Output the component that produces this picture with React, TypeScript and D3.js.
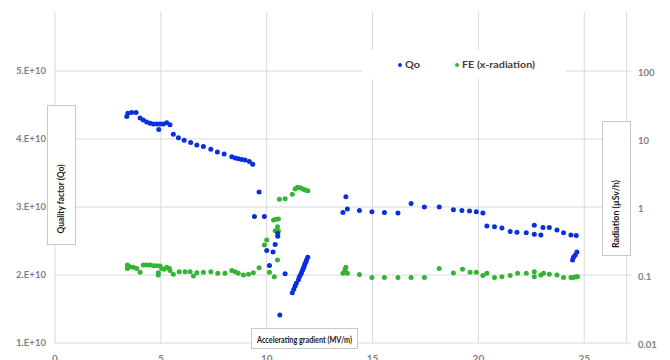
import * as d3 from "d3";

// Qo vs accelerating gradient
const qoGradient = [
  3.39, 3.44, 3.62, 3.83, 4.02, 4.17, 4.33, 4.49, 4.65, 4.81, 4.9, 4.96, 5.12, 5.28, 5.43,
  5.59, 5.83, 6.1, 6.41, 6.7, 7.01, 7.36, 7.67, 7.99, 8.35, 8.51, 8.66, 8.82, 8.98, 9.18, 9.34,
  9.64, 9.42, 9.89, 10.52, 10.52, 10.4, 10.0, 10.3, 10.13, 10.87,
  11.94, 11.88, 11.85, 11.8, 11.77, 11.73, 11.69, 11.64, 11.59, 11.54, 11.5, 11.4, 11.34, 11.28, 11.21,
  10.62,
  13.74, 13.6, 13.81, 14.38, 14.97, 15.56, 16.2, 16.82, 17.45, 18.15, 18.82, 19.22, 19.58, 19.9, 20.21,
  20.4, 20.76, 21.11, 21.5, 21.82, 22.26, 22.64, 22.64, 22.95, 23.05, 23.35, 23.71, 24.02, 24.37, 24.62,
  24.65, 24.57, 24.49, 24.45,
];
const qoValues = [
  4.33, 4.38, 4.39, 4.39, 4.31, 4.28, 4.25, 4.23, 4.22, 4.22, 4.14, 4.22, 4.22, 4.24, 4.21,
  4.07, 4.02, 3.98, 3.95, 3.91, 3.89, 3.85, 3.81, 3.78, 3.74, 3.72, 3.71, 3.7, 3.69, 3.67, 3.63,
  3.22, 2.86, 2.86, 2.61, 2.57, 2.45, 2.36, 2.34, 2.14, 2.02,
  2.26, 2.22, 2.19, 2.16, 2.13, 2.1, 2.07, 2.03, 2.0, 1.97, 1.93, 1.88, 1.84, 1.79, 1.74,
  1.41,
  3.15, 2.92, 2.97, 2.95, 2.93, 2.92, 2.91, 3.05, 3.0, 3.0, 2.96, 2.95, 2.94, 2.93, 2.91,
  2.72, 2.71, 2.69, 2.64, 2.63, 2.62, 2.73, 2.6, 2.59, 2.7, 2.7, 2.66, 2.62, 2.59, 2.58,
  2.34, 2.29, 2.26, 2.22,
].map((v) => v * 1e10);

// field emission (x-radiation, µSv/h) vs accelerating gradient
const feGradient = [
  3.42, 3.42, 3.54, 3.7, 3.86, 4.02, 4.17, 4.33, 4.49, 4.65, 4.81, 4.88, 4.88, 4.96, 5.04, 5.15,
  5.28, 5.4, 5.43, 5.59, 5.87, 6.14, 6.38, 6.54, 6.7, 7.01, 7.36, 7.69, 8.03, 8.35, 8.51, 8.66,
  8.9, 9.14, 9.37, 9.64, 9.89, 10.0, 10.13, 10.36, 10.32, 10.43, 10.55, 10.51, 10.4, 10.55, 10.51,
  10.6, 10.87, 11.21, 11.34, 11.45, 11.58, 11.71, 11.81, 11.94,
  13.6, 13.74, 13.7, 13.81, 14.38, 14.97, 15.56, 16.2, 16.82, 17.45, 18.15, 18.82, 19.25, 19.61,
  19.9, 20.21, 20.4, 20.76, 21.11, 21.5, 21.85, 22.26, 22.64, 22.64, 22.95, 23.08, 23.35, 23.71,
  24.02, 24.37, 24.49, 24.62, 24.68,
];
const feValues = [
  0.14, 0.125, 0.132, 0.13, 0.125, 0.11, 0.14, 0.14, 0.14, 0.137, 0.137, 0.108, 0.1, 0.136, 0.125, 0.121,
  0.13, 0.125, 0.116, 0.103, 0.112, 0.112, 0.112, 0.097, 0.108, 0.11, 0.112, 0.106, 0.106, 0.116, 0.112, 0.106,
  0.1, 0.103, 0.108, 0.128, 0.276, 0.327, 0.11, 0.094, 0.644, 0.659, 0.667, 0.513, 0.448, 0.443, 0.166,
  1.3, 1.32, 1.54, 1.84, 1.95, 1.92, 1.84, 1.78, 1.74,
  0.106, 0.13, 0.119, 0.106, 0.102, 0.092, 0.092, 0.092, 0.092, 0.092, 0.125, 0.107, 0.121, 0.11,
  0.11, 0.098, 0.106, 0.092, 0.094, 0.098, 0.106, 0.106, 0.112, 0.094, 0.1, 0.106, 0.103, 0.1,
  0.092, 0.092, 0.092, 0.094, 0.094,
];

const xTicks = [0, 5, 10, 15, 20, 25];
const qoTicks = [1e10, 2e10, 3e10, 4e10, 5e10];
const qoTickLabels = ["1.E+10", "2.E+10", "3.E+10", "4.E+10", "5.E+10"];
const radTicks = [0.01, 0.1, 1, 10, 100];
const radTickLabels = ["0.01", "0.1", "1", "10", "100"];

const W = 670;
const H = 360;
const plotTop = 12;
const BLUE = "#0a2fe0";
const GREEN = "#33b534";
const GRID = "#d9d9d9";
const LABEL = "#7f7f7f";
const FONT = "Lato, 'Open Sans', sans-serif";

const x = d3.scaleLinear().domain([0, 27]).range([55, 626.6]);
const yQ = d3.scaleLinear().domain([1e10, 6e10]).range([343, 3]);
const yR = d3.scaleLog().domain([0.01, 1000]).range([343, 3]);

export default function App() {
  const [x0, x1] = x.range();
  const bottom = yQ(1e10);
  return (
    <svg
      width={W}
      height={H}
      style={{ position: "absolute", left: 0, top: 0, background: "#fff" }}
      fontFamily={FONT}
    >
      <rect width={W} height={H} fill="#fff" />
      {/* grid */}
      {qoTicks.slice(1).map((t) => (
        <line key={"h" + t} x1={x0} x2={x1} y1={yQ(t)} y2={yQ(t)} stroke={GRID} />
      ))}
      {xTicks.slice(1).map((t) => (
        <line key={"v" + t} x1={x(t)} x2={x(t)} y1={plotTop} y2={bottom} stroke={GRID} />
      ))}
      {/* axis lines */}
      <line x1={x0} x2={x0} y1={plotTop} y2={bottom} stroke={GRID} />
      <line x1={x1} x2={x1} y1={plotTop} y2={bottom} stroke={GRID} />
      <line x1={x0} x2={x1} y1={bottom} y2={bottom} stroke={GRID} />
      {radTicks.map((t) => (
        <line key={"rt" + t} x1={x1} x2={x1 + 5} y1={yR(t)} y2={yR(t)} stroke={GRID} />
      ))}

      {/* tick labels */}
      {qoTicks.map((t, i) => (
        <text key={"ql" + t} x={46} y={yQ(t)} dy="0.35em" textAnchor="end" fontSize={9.5} fontWeight={700} fill={LABEL} textLength={30} lengthAdjust="spacingAndGlyphs">
          {qoTickLabels[i]}
        </text>
      ))}
      {radTicks.map((t, i) => (
        <text key={"rl" + t} x={638} y={yR(t) + 2} dy="0.35em" fontSize={9.5} fontWeight={700} fill={LABEL}>
          {radTickLabels[i]}
        </text>
      ))}
      {xTicks.map((t) => (
        <text key={"xl" + t} x={x(t)} y={362} textAnchor="middle" fontSize={10} fontWeight={700} fill={LABEL}>
          {t}
        </text>
      ))}

      {/* data */}
      {feGradient.map((g, i) => (
        <circle key={"fe" + i} cx={x(g)} cy={yR(feValues[i])} r={2.5} fill={GREEN} />
      ))}
      {qoGradient.map((g, i) => (
        <circle key={"qo" + i} cx={x(g)} cy={yQ(qoValues[i])} r={2.5} fill={BLUE} />
      ))}

      {/* legend */}
      <rect x={362} y={50} width={204} height={29} fill="#fff" />
      <circle cx={400} cy={65} r={2} fill={BLUE} />
      <text x={405} y={65} dy="0.35em" fontSize={9.5} fontWeight={700} fill="#404040" textLength={15} lengthAdjust="spacingAndGlyphs">
        Qo
      </text>
      <circle cx={457} cy={65} r={2} fill={GREEN} />
      <text x={462} y={65} dy="0.35em" fontSize={9.5} fontWeight={700} fill="#404040" textLength={73} lengthAdjust="spacingAndGlyphs">
        FE (x-radiation)
      </text>

      {/* axis titles */}
      <rect x={47.5} y={105.5} width={28} height={139} fill="#fff" stroke="#c8c8c8" />
      <text transform="translate(64,199) rotate(-90)" textAnchor="middle" fontSize={10} fontWeight={700} fill="#1a1a1a" textLength={69} lengthAdjust="spacingAndGlyphs">
        Quality factor (Qo)
      </text>
      <rect x={602.5} y={121.5} width={28} height={134} fill="#fff" stroke="#c8c8c8" />
      <text transform="translate(619,214) rotate(-90)" textAnchor="middle" fontSize={10} fontWeight={700} fill="#1a1a1a" textLength={68} lengthAdjust="spacingAndGlyphs">
        Radiation (µSv/h)
      </text>
      <rect x={251.5} y={328.5} width={106} height={20} fill="#fff" stroke="#c8c8c8" />
      <text x={304.5} y={342.5} textAnchor="middle" fontSize={10} fontWeight={700} fill="#1a1a1a" textLength={95} lengthAdjust="spacingAndGlyphs">
        Accelerating gradient (MV/m)
      </text>
    </svg>
  );
}
